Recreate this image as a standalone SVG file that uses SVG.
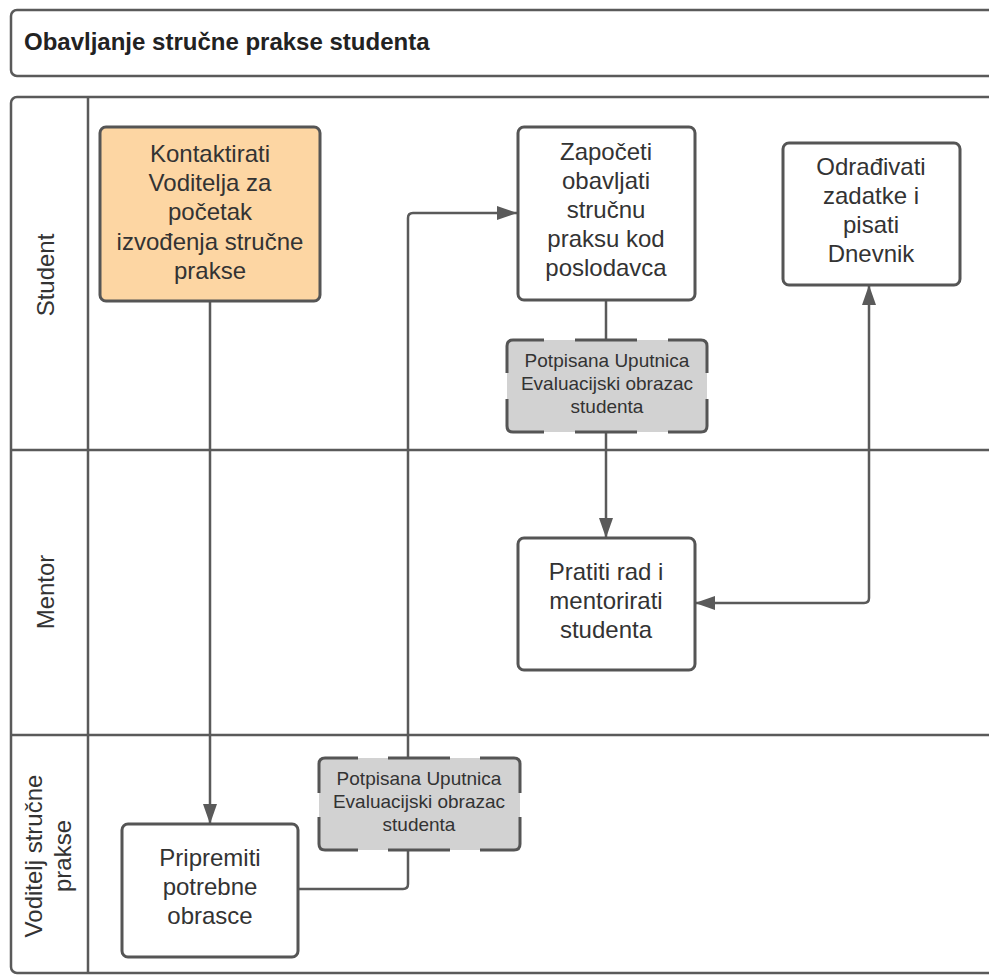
<svg xmlns="http://www.w3.org/2000/svg" width="989" height="976" viewBox="0 0 989 976">
<style>
.frame{fill:#fff;stroke:#5a5a5a;stroke-width:2.5}
.line{fill:none;stroke:#5a5a5a;stroke-width:2.5}
.box{fill:#fff;stroke:#555;stroke-width:3}
.start{fill:#fdd6a3;stroke:#555;stroke-width:3}
.docfill{fill:#d2d2d2;stroke:none}
.docedge{fill:none;stroke:#555;stroke-width:3;stroke-linecap:butt}
.conn{fill:none;stroke:#5a5a5a;stroke-width:2.5}
text{font-family:"Liberation Sans",Arial,sans-serif;fill:#333}
.t{font-size:24px;text-anchor:middle}
.d{font-size:19px;text-anchor:middle}
.lane{font-size:24px;text-anchor:middle}
.title{font-size:24px;font-weight:bold;fill:#222}
</style>
<defs>
<marker id="ah" markerUnits="userSpaceOnUse" markerWidth="20" markerHeight="14" refX="20" refY="7" orient="auto-start-reverse">
<path d="M0,0 L20,7 L0,14 z" fill="#5a5a5a"/>
</marker>
</defs>
<rect width="989" height="976" fill="#fff"/>
<g id="title">
<rect class="frame" x="11" y="10" width="1000" height="66" rx="6"/>
<text class="title" x="24" y="50">Obavljanje stručne prakse studenta</text>
</g>
<g id="pool">
<rect class="frame" x="11" y="97" width="1000" height="876" rx="6"/>
<line class="line" x1="88" y1="97" x2="88" y2="973"/>
<line class="line" x1="11" y1="450" x2="989" y2="450"/>
<line class="line" x1="11" y1="735" x2="989" y2="735"/>
</g>
<g id="lane-student"><text class="lane" transform="translate(54,275) rotate(-90)">Student</text></g>
<g id="lane-mentor"><text class="lane" transform="translate(54,592) rotate(-90)">Mentor</text></g>
<g id="lane-voditelj"><text class="lane" transform="translate(42,856) rotate(-90)">Voditelj stručne</text><text class="lane" transform="translate(71,856) rotate(-90)">prakse</text></g>
<g id="connectors">
<path class="conn" d="M210,301 V824" marker-end="url(#ah)"/>
<path class="conn" d="M298,889 H403 Q408,889 408,884 V218 Q408,213 413,213 H517" marker-end="url(#ah)"/>
<path class="conn" d="M606,300 V538" marker-end="url(#ah)"/>
<path class="conn" d="M695,603 H864 Q869,603 869,598 V285" marker-start="url(#ah)" marker-end="url(#ah)"/>
</g>
<g id="kontaktirati">
<rect class="start" x="100" y="127" width="220" height="174" rx="6"/>
<text class="t" x="210" y="162">Kontaktirati</text>
<text class="t" x="210" y="191">Voditelja za</text>
<text class="t" x="210" y="220">početak</text>
<text class="t" x="210" y="250">izvođenja stručne</text>
<text class="t" x="210" y="279">prakse</text>
</g>
<g id="zapoceti">
<rect class="box" x="518" y="127" width="177" height="173" rx="6"/>
<text class="t" x="606" y="160">Započeti</text>
<text class="t" x="606" y="189">obavljati</text>
<text class="t" x="606" y="218">stručnu</text>
<text class="t" x="606" y="247">praksu kod</text>
<text class="t" x="606" y="276">poslodavca</text>
</g>
<g id="odradivati">
<rect class="box" x="783" y="143" width="177" height="142" rx="6"/>
<text class="t" x="871" y="175">Odrađivati</text>
<text class="t" x="871" y="204">zadatke i</text>
<text class="t" x="871" y="233">pisati</text>
<text class="t" x="871" y="262">Dnevnik</text>
</g>
<g id="doc1">
<rect class="docfill" x="507" y="340" width="200" height="92" rx="6"/>
<path class="docedge" d="M507,373 V346 Q507,340 513,340 H544 M575,340 H637 M668,340 H701 Q707,340 707,346 V373 M707,399 V426 Q707,432 701,432 H668 M637,432 H575 M544,432 H513 Q507,432 507,426 V399"/>
<text class="d" x="607" y="367">Potpisana Uputnica</text>
<text class="d" x="607" y="390">Evaluacijski obrazac</text>
<text class="d" x="607" y="413">studenta</text>
</g>
<g id="pratiti">
<rect class="box" x="518" y="538" width="177" height="132" rx="6"/>
<text class="t" x="606" y="580">Pratiti rad i</text>
<text class="t" x="606" y="609">mentorirati</text>
<text class="t" x="606" y="638">studenta</text>
</g>
<g id="doc2">
<rect class="docfill" x="319" y="758" width="201" height="92" rx="6"/>
<path class="docedge" d="M319,793 V764 Q319,758 325,758 H358 M388,758 H450 M480,758 H514 Q520,758 520,764 V793 M520,817 V844 Q520,850 514,850 H480 M450,850 H388 M358,850 H325 Q319,850 319,844 V817"/>
<text class="d" x="419" y="785">Potpisana Uputnica</text>
<text class="d" x="419" y="808">Evaluacijski obrazac</text>
<text class="d" x="419" y="831">studenta</text>
</g>
<g id="pripremiti">
<rect class="box" x="122" y="824" width="176" height="133" rx="6"/>
<text class="t" x="210" y="866">Pripremiti</text>
<text class="t" x="210" y="895">potrebne</text>
<text class="t" x="210" y="924">obrasce</text>
</g>
</svg>
